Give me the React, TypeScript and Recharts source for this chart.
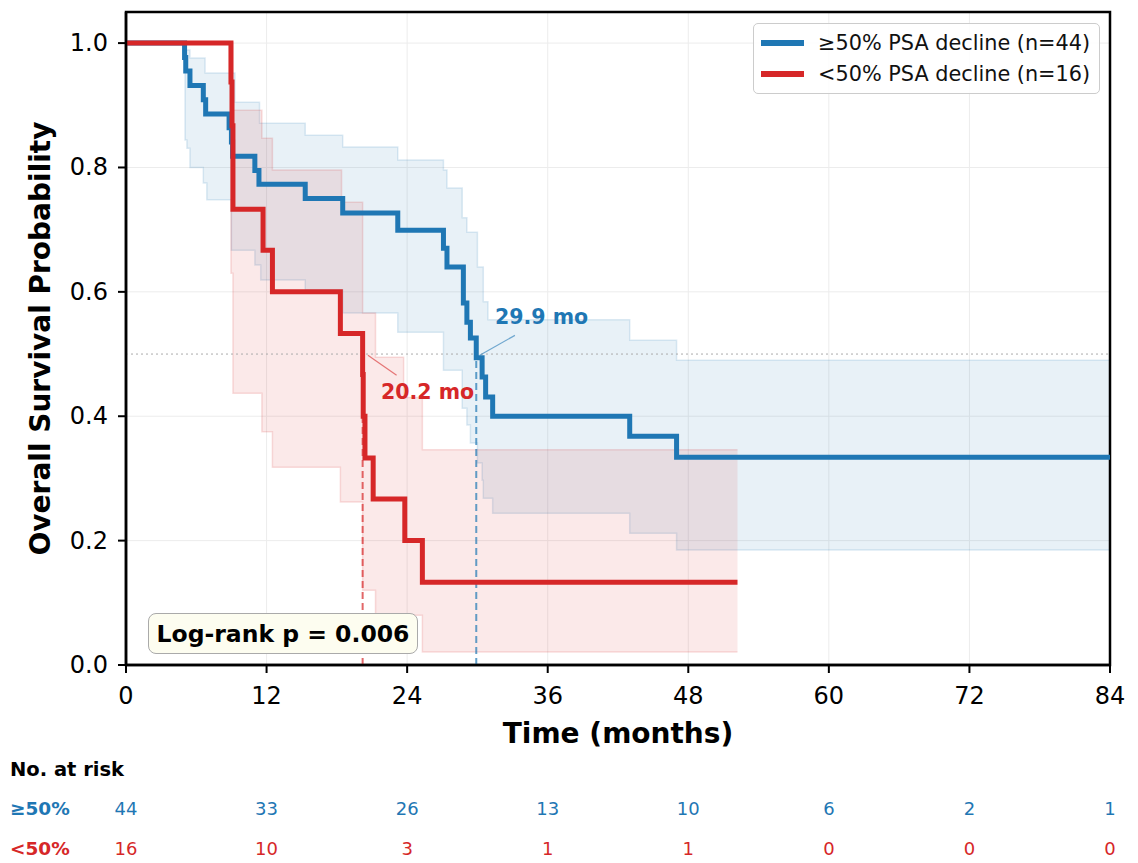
import React from "react";
import {
  Area,
  CartesianGrid,
  ComposedChart,
  Line,
  ReferenceArea,
  ReferenceDot,
  ReferenceLine,
  XAxis,
  YAxis,
} from "recharts";

const BLUE = "#1f77b4";
const RED = "#d62728";
const FONT = "'DejaVu Sans', sans-serif";

// KM curve, >=50% PSA decline (n=44)
const highTimes = [0, 5.0, 5.1, 5.46, 6.6, 6.8, 8.8, 9.0, 9.1, 11.0, 11.35, 15.3, 18.5, 23.2, 27.1, 27.4, 28.8, 29.1, 29.4, 29.9, 30.4, 30.7, 31.3, 43.0, 47.0, 84];
const highSurv = [1.0, 0.977, 0.955, 0.932, 0.909, 0.886, 0.864, 0.841, 0.818, 0.795, 0.773, 0.75, 0.727, 0.699, 0.67, 0.64, 0.582, 0.551, 0.526, 0.494, 0.463, 0.431, 0.4, 0.368, 0.334, 0.334];
const highCiTimes = [0, 5.04, 5.2, 5.46, 6.6, 6.75, 6.9, 9.0, 9.3, 11.0, 11.4, 11.5, 15.3, 18.5, 23.2, 27.1, 27.4, 28.7, 29.1, 29.4, 30.0, 30.4, 30.5, 30.9, 31.3, 43.0, 47.0, 84];
const highCiLow = [1.0, 0.844, 0.831, 0.8, 0.775, 0.775, 0.748, 0.667, 0.667, 0.643, 0.643, 0.619, 0.603, 0.566, 0.535, 0.474, 0.474, 0.413, 0.386, 0.357, 0.325, 0.297, 0.268, 0.268, 0.244, 0.212, 0.185, 0.185];
const highCiUp = [1.0, 0.989, 0.989, 0.976, 0.976, 0.952, 0.952, 0.952, 0.905, 0.905, 0.871, 0.871, 0.852, 0.833, 0.812, 0.796, 0.767, 0.719, 0.696, 0.696, 0.64, 0.64, 0.584, 0.555, 0.555, 0.522, 0.49, 0.49];

// KM curve, <50% PSA decline (n=16)
const lowTimes = [0, 8.96, 9.05, 9.13, 11.7, 12.5, 18.3, 20.2, 20.25, 20.4, 21.1, 23.8, 25.3, 52.2];
const lowSurv = [1.0, 0.9375, 0.867, 0.733, 0.667, 0.6, 0.533, 0.467, 0.4, 0.333, 0.267, 0.2, 0.133, 0.133];
const lowCiTimes = [0, 8.96, 9.13, 11.6, 12.5, 18.3, 18.4, 20.2, 21.3, 23.7, 25.3, 52.2];
const lowCiLow = [1.0, 0.63, 0.437, 0.375, 0.318, 0.262, 0.262, 0.12, 0.08, 0.08, 0.021, 0.021];
const lowCiUp = [1.0, 1.0, 0.892, 0.847, 0.796, 0.796, 0.744, 0.566, 0.495, 0.43, 0.346, 0.346];

const highMedian = 29.9;
const lowMedian = 20.2;
const pValue = "0.006";

const riskTimes = [0, 12, 24, 36, 48, 60, 72, 84];
const riskHigh = [44, 33, 26, 13, 10, 6, 2, 1];
const riskLow = [16, 10, 3, 1, 1, 0, 0, 0];
const yTicks = [0, 0.2, 0.4, 0.6, 0.8, 1.0];

const stepAt = (times: number[], vals: number[], t: number) => {
  let i = 0;
  while (i + 1 < times.length && times[i + 1] <= t) i++;
  return vals[i];
};

const allTimes = Array.from(
  new Set([...highTimes, ...highCiTimes, ...lowTimes, ...lowCiTimes])
).sort((a, b) => a - b);
const lowEnd = lowTimes[lowTimes.length - 1];

const table = allTimes.map((t) => ({
  t,
  high: stepAt(highTimes, highSurv, t),
  highCi: [stepAt(highCiTimes, highCiLow, t), stepAt(highCiTimes, highCiUp, t)],
  low: t <= lowEnd ? stepAt(lowTimes, lowSurv, t) : null,
  lowCi: t <= lowEnd ? [stepAt(lowCiTimes, lowCiLow, t), stepAt(lowCiTimes, lowCiUp, t)] : null,
}));

const XTick = (props: any) => (
  <text x={props.x} y={props.y + 21} textAnchor="middle" dominantBaseline="central" fontFamily={FONT} fontSize={24} fill="#000">
    {props.payload.value}
  </text>
);

const YTick = (props: any) => (
  <text x={props.x - 8} y={props.y} textAnchor="end" dominantBaseline="central" fontFamily={FONT} fontSize={24} fill="#000">
    {Number(props.payload.value).toFixed(1)}
  </text>
);

const makeRiskTick = (counts: number[], color: string, name: string, dy: number, header: boolean) => (props: any) => {
  const idx = riskTimes.indexOf(props.payload.value);
  return (
    <g>
      {idx === 0 && header && (
        <text x={10} y={props.y + 4} dominantBaseline="central" fontFamily={FONT} fontSize={19.5} fontWeight="bold" fill="#000">
          No. at risk
        </text>
      )}
      {idx === 0 && (
        <text x={10} y={props.y + dy} dominantBaseline="central" fontFamily={FONT} fontSize={18.5} fontWeight="bold" fill={color}>
          {name}
        </text>
      )}
      <text x={props.x} y={props.y + dy} textAnchor="middle" dominantBaseline="central" fontFamily={FONT} fontSize={18} fill={color}>
        {idx >= 0 ? counts[idx] : ""}
      </text>
    </g>
  );
};

const XTitle = (props: any) => {
  const vb = props.viewBox;
  return (
    <text x={vb.x + vb.width / 2} y={vb.y + 68} textAnchor="middle" dominantBaseline="central" fontFamily={FONT} fontSize={28} fontWeight="bold" fill="#000">
      Time (months)
    </text>
  );
};

const YTitle = (props: any) => {
  const vb = props.viewBox;
  const cy = vb.y + vb.height / 2;
  return (
    <text x={40} y={cy} transform={`rotate(-90 40 ${cy})`} textAnchor="middle" dominantBaseline="central" fontFamily={FONT} fontSize={28} fontWeight="bold" fill="#000">
      Overall Survival Probability
    </text>
  );
};

const medianLabel = (text: string, color: string) => (props: any) => (
  <text x={props.viewBox.x} y={props.viewBox.y} dominantBaseline="central" fontFamily={FONT} fontSize={20.5} fontWeight="bold" fill={color}>
    {text}
  </text>
);

const legendItems = [
  { label: "≥50% PSA decline (n=44)", color: BLUE },
  { label: "<50% PSA decline (n=16)", color: RED },
];

export default function App() {
  return (
    <div style={{ position: "absolute", left: 0, top: 0, width: 1138, height: 863, background: "#fff", fontFamily: FONT }}>
      <ComposedChart width={1138} height={863} data={table} margin={{ top: 12, right: 28, bottom: 0, left: 0 }}>
        <CartesianGrid stroke="#ececec" strokeWidth={1} />
        <XAxis
          dataKey="t"
          type="number"
          domain={[0, 84]}
          ticks={riskTimes}
          allowDataOverflow
          height={100}
          tickSize={8}
          tickMargin={2}
          tick={<XTick />}
          axisLine={{ stroke: "#000", strokeWidth: 2.5 }}
          tickLine={{ stroke: "#000", strokeWidth: 2 }}
          label={(p: any) => <XTitle {...p} />}
        />
        <XAxis
          xAxisId="r1"
          dataKey="t"
          type="number"
          domain={[0, 84]}
          ticks={riskTimes}
          allowDataOverflow
          height={63}
          tickSize={0}
          tickMargin={0}
          axisLine={false}
          tickLine={false}
          tick={makeRiskTick(riskHigh, BLUE, "≥50%", 43, true)}
        />
        <XAxis
          xAxisId="r2"
          dataKey="t"
          type="number"
          domain={[0, 84]}
          ticks={riskTimes}
          allowDataOverflow
          height={35}
          tickSize={0}
          tickMargin={0}
          axisLine={false}
          tickLine={false}
          tick={makeRiskTick(riskLow, RED, "<50%", 20, false)}
        />
        <YAxis
          type="number"
          domain={[0, 1.05]}
          ticks={yTicks}
          allowDataOverflow
          width={126}
          tickSize={8}
          tickMargin={2}
          tick={<YTick />}
          axisLine={{ stroke: "#000", strokeWidth: 2.5 }}
          tickLine={{ stroke: "#000", strokeWidth: 2 }}
          label={(p: any) => <YTitle {...p} />}
        />
        <Area
          dataKey="highCi"
          type="stepAfter"
          fill={BLUE}
          fillOpacity={0.1}
          stroke={BLUE}
          strokeOpacity={0.15}
          strokeWidth={1.5}
          dot={false}
          activeDot={false}
          isAnimationActive={false}
        />
        <Area
          dataKey="lowCi"
          type="stepAfter"
          fill={RED}
          fillOpacity={0.1}
          stroke={RED}
          strokeOpacity={0.15}
          strokeWidth={1.5}
          dot={false}
          activeDot={false}
          isAnimationActive={false}
        />
        <ReferenceLine y={0.5} stroke="#aaa" strokeDasharray="2 3" strokeWidth={1} />
        <ReferenceLine segment={[{ x: highMedian, y: 0 }, { x: highMedian, y: 0.5 }]} stroke={BLUE} strokeOpacity={0.7} strokeDasharray="7 4" strokeWidth={2} />
        <ReferenceLine segment={[{ x: lowMedian, y: 0 }, { x: lowMedian, y: 0.5 }]} stroke={RED} strokeOpacity={0.7} strokeDasharray="7 4" strokeWidth={2} />
        <Line dataKey="high" type="stepAfter" stroke={BLUE} strokeWidth={5} dot={false} activeDot={false} isAnimationActive={false} />
        <Line dataKey="low" type="stepAfter" stroke={RED} strokeWidth={5} dot={false} activeDot={false} isAnimationActive={false} />
        <ReferenceLine segment={[{ x: highMedian + 0.3, y: 0.498 }, { x: highMedian + 3.3, y: 0.53 }]} stroke={BLUE} strokeOpacity={0.6} strokeWidth={1.2} />
        <ReferenceLine segment={[{ x: lowMedian + 0.45, y: 0.498 }, { x: lowMedian + 2.9, y: 0.466 }]} stroke={RED} strokeOpacity={0.6} strokeWidth={1.2} />
        <ReferenceDot x={highMedian + 1.6} y={0.559} r={0} stroke="none" label={medianLabel(`${highMedian} mo`, BLUE)} />
        <ReferenceDot x={lowMedian + 1.57} y={0.439} r={0} stroke="none" label={medianLabel(`${lowMedian} mo`, RED)} />
        <ReferenceArea x1={0} x2={84} y1={0} y2={1.05} fill="none" stroke="#000" strokeWidth={2.5} />
      </ComposedChart>

      <div
        style={{
          position: "absolute",
          left: 753,
          top: 23,
          width: 347,
          height: 71,
          border: "1.5px solid #cccccc",
          borderRadius: 5,
          background: "rgba(255,255,255,0.85)",
          boxSizing: "border-box",
        }}
      >
        {legendItems.map((it, i) => (
          <div key={i} style={{ position: "absolute", left: 7, top: 4 + i * 31, height: 30, display: "flex", alignItems: "center" }}>
            <div style={{ width: 43, height: 6, background: it.color }} />
            <span style={{ marginLeft: 14, fontSize: 20.8, color: "#111", whiteSpace: "nowrap" }}>{it.label}</span>
          </div>
        ))}
      </div>

      <div
        style={{
          position: "absolute",
          left: 148,
          top: 613,
          width: 270,
          height: 41,
          border: "1.5px solid #aaaaaa",
          borderRadius: 8,
          background: "#fdfdf0",
          boxSizing: "border-box",
          display: "flex",
          alignItems: "center",
          justifyContent: "center",
          fontSize: 23.5,
          fontWeight: "bold",
          color: "#000",
          whiteSpace: "nowrap",
        }}
      >
        Log-rank p = {pValue}
      </div>
    </div>
  );
}
